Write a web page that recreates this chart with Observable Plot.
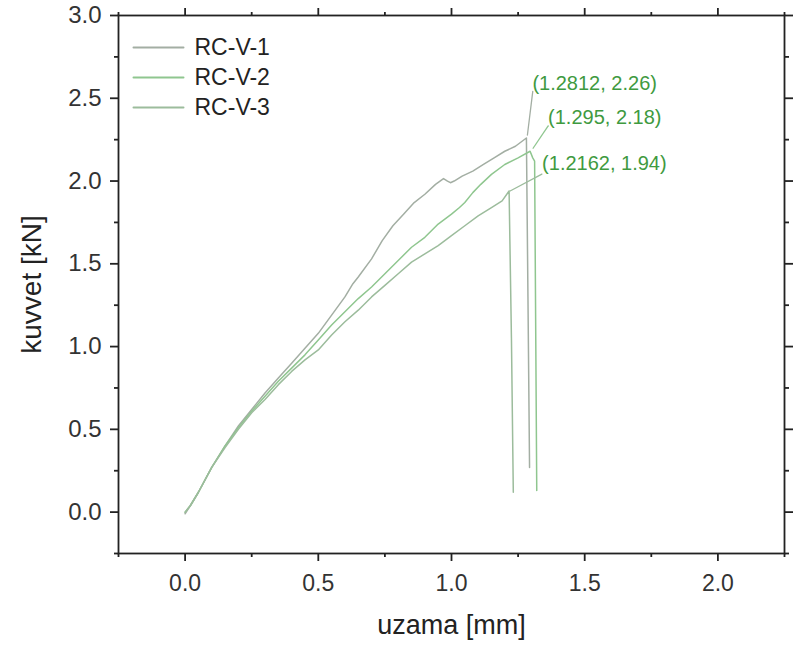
<!DOCTYPE html>
<html><head><meta charset="utf-8">
<script src="https://cdn.jsdelivr.net/npm/d3@7"></script>
<script src="https://cdn.jsdelivr.net/npm/@observablehq/plot@0.6"></script>
<style>body{margin:0;background:#fff;}</style>
</head><body><div id="chart"></div>
<script>
// ---- data ----
const seriesNames = ["RC-V-1", "RC-V-2", "RC-V-3"];
const seriesColors = ["#a3aea3", "#8fc68f", "#9cbc9c"];

const rcv1X = [0, 0.02, 0.05, 0.10, 0.15, 0.20, 0.25, 0.30, 0.35, 0.40, 0.45, 0.50, 0.55, 0.60, 0.63, 0.65, 0.70, 0.74, 0.78, 0.82, 0.86, 0.90, 0.94, 0.97, 0.985, 0.996, 1.01, 1.04, 1.08, 1.12, 1.16, 1.20, 1.24, 1.2812, 1.287, 1.293];
const rcv1Y = [-0.01, 0.04, 0.12, 0.27, 0.40, 0.52, 0.62, 0.72, 0.81, 0.90, 0.99, 1.08, 1.19, 1.30, 1.38, 1.42, 1.53, 1.64, 1.73, 1.80, 1.87, 1.92, 1.98, 2.015, 2.00, 1.99, 2.00, 2.03, 2.06, 2.10, 2.14, 2.18, 2.21, 2.26, 1.30, 0.27];

const rcv2X = [0, 0.02, 0.05, 0.10, 0.15, 0.20, 0.25, 0.30, 0.35, 0.40, 0.45, 0.50, 0.55, 0.60, 0.65, 0.70, 0.75, 0.80, 0.85, 0.90, 0.95, 1.00, 1.03, 1.05, 1.08, 1.11, 1.15, 1.20, 1.25, 1.295, 1.305, 1.312, 1.32];
const rcv2Y = [0, 0.04, 0.12, 0.27, 0.40, 0.51, 0.61, 0.70, 0.79, 0.87, 0.95, 1.04, 1.13, 1.21, 1.29, 1.36, 1.44, 1.52, 1.60, 1.66, 1.74, 1.80, 1.84, 1.87, 1.93, 1.98, 2.04, 2.10, 2.14, 2.18, 2.14, 2.12, 0.13];

const rcv3X = [0, 0.02, 0.05, 0.10, 0.15, 0.20, 0.25, 0.30, 0.35, 0.40, 0.45, 0.50, 0.55, 0.60, 0.65, 0.70, 0.75, 0.80, 0.85, 0.90, 0.95, 1.00, 1.05, 1.10, 1.15, 1.19, 1.2162, 1.225, 1.232];
const rcv3Y = [0, 0.04, 0.12, 0.27, 0.39, 0.50, 0.60, 0.68, 0.77, 0.85, 0.92, 0.98, 1.07, 1.15, 1.22, 1.30, 1.37, 1.44, 1.51, 1.56, 1.61, 1.67, 1.73, 1.79, 1.84, 1.88, 1.94, 1.05, 0.12];

const peakX = [1.2812, 1.295, 1.2162];
const peakY = [2.26, 2.18, 1.94];
const peakLabels = ["(1.2812, 2.26)", "(1.295, 2.18)", "(1.2162, 1.94)"];

const xMajorTicks = [0, 0.5, 1.0, 1.5, 2.0];
const xMinorTicks = [-0.25, 0.25, 0.75, 1.25, 1.75, 2.25];
const yMajorTicks = [0, 0.5, 1.0, 1.5, 2.0, 2.5, 3.0];
const yMinorTicks = [-0.25, 0.25, 0.75, 1.25, 1.75, 2.25, 2.75];

const xTitle = "uzama [mm]";
const yTitle = "kuvvet [kN]";

// ---- build table ----
const seriesXs = [rcv1X, rcv2X, rcv3X];
const seriesYs = [rcv1Y, rcv2Y, rcv3Y];
const table = seriesNames.flatMap((name, s) =>
  seriesXs[s].map((x, i) => ({series: name, x, y: seriesYs[s][i]})));
const peaks = peakX.map((x, i) => ({x, y: peakY[i], label: peakLabels[i]}));

// ---- styles ----
const axisColor = "#222";
const annColor = "#3f9a3f";
const leaderLen = [44, 27, 36];
const leaderRot = [7, 34, 62];
const leaderDx = [1, 3, 1];
const leaderDy = [-3, -3, 0];
const labelDx = [6, 18, 33];
const labelDy = [-54, -34, -27];
const lineShape = {draw(context, l) { context.moveTo(0, 0); context.lineTo(0, -l); }};

const tickFmt = d3.format(".1f");
const blank = () => "";
const axW = 1.8;

const marks = [
  Plot.frame({stroke: axisColor, strokeWidth: axW}),
  // bottom
  Plot.axisX({anchor: "bottom", ticks: xMajorTicks, tickSize: 8, tickPadding: 13, tickFormat: tickFmt, fontSize: 23, label: null, stroke: axisColor, fill: "#333", strokeWidth: axW}),
  Plot.axisX({anchor: "bottom", ticks: xMinorTicks, tickSize: 4, tickFormat: blank, label: null, stroke: axisColor, strokeWidth: axW}),
  // top
  Plot.axisX({anchor: "top", ticks: xMajorTicks, tickSize: 8, tickFormat: blank, label: null, stroke: axisColor, strokeWidth: axW}),
  Plot.axisX({anchor: "top", ticks: xMinorTicks, tickSize: 4, tickFormat: blank, label: null, stroke: axisColor, strokeWidth: axW}),
  // left
  Plot.axisY({anchor: "left", ticks: yMajorTicks, tickSize: 8, tickPadding: 9, tickFormat: tickFmt, fontSize: 24, label: null, stroke: axisColor, fill: "#333", strokeWidth: axW}),
  Plot.axisY({anchor: "left", ticks: yMinorTicks, tickSize: 4, tickFormat: blank, label: null, stroke: axisColor, strokeWidth: axW}),
  // right
  Plot.axisY({anchor: "right", ticks: yMajorTicks, tickSize: 8, tickFormat: blank, label: null, stroke: axisColor, strokeWidth: axW}),
  Plot.axisY({anchor: "right", ticks: yMinorTicks, tickSize: 4, tickFormat: blank, label: null, stroke: axisColor, strokeWidth: axW}),
  // titles
  Plot.text([xTitle], {frameAnchor: "bottom", dy: 72, text: d => d, fontSize: 27, fill: "#222", textAnchor: "middle", lineAnchor: "middle"}),
  Plot.text([yTitle], {frameAnchor: "left", dx: -86, rotate: -90, text: d => d, fontSize: 28, fill: "#222", textAnchor: "middle", lineAnchor: "middle"}),
  // data lines
  Plot.line(table, {x: "x", y: "y", z: "series", stroke: "series", strokeWidth: 1.5, strokeLinejoin: "round"})
];

// legend
seriesNames.forEach((name, i) => {
  marks.push(Plot.vector([name], {frameAnchor: "top-left", dx: 15, dy: 32 + i * 30, length: 50, rotate: 90, anchor: "start", shape: lineShape, stroke: seriesColors[i], strokeWidth: 2, fill: "none"}));
  marks.push(Plot.text([name], {frameAnchor: "top-left", dx: 76, dy: 32 + i * 30, text: d => d, textAnchor: "start", lineAnchor: "middle", fontSize: 23, fill: "#222"}));
});

// annotations
peaks.forEach((p, i) => {
  marks.push(Plot.vector([p], {x: "x", y: "y", dx: leaderDx[i], dy: leaderDy[i], length: leaderLen[i], rotate: leaderRot[i], anchor: "start", shape: lineShape, stroke: seriesColors[i], strokeWidth: 1.3, fill: "none"}));
  marks.push(Plot.text([p], {x: "x", y: "y", text: "label", dx: labelDx[i], dy: labelDy[i], textAnchor: "start", fontSize: 20, fill: annColor}));
});

const chart = Plot.plot({
  width: 796,
  height: 646,
  marginTop: 15,
  marginRight: 12,
  marginBottom: 93,
  marginLeft: 118,
  style: {fontFamily: "'Liberation Sans', Arial, sans-serif", background: "#fff"},
  x: {domain: [-0.25, 2.25]},
  y: {domain: [-0.25, 3.0]},
  color: {domain: seriesNames, range: seriesColors},
  marks
});
document.getElementById("chart").appendChild(chart);
</script></body></html>
